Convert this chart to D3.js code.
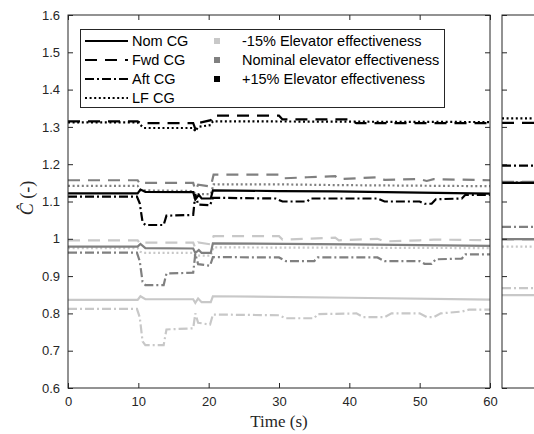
<!DOCTYPE html>
<html>
<head>
<meta charset="utf-8">
<script src="https://cdn.jsdelivr.net/npm/d3@7"></script>
<style>
  body { margin: 0; background: #fff; }
  svg { display: block; }
  .tick text { font-family: "Liberation Sans", Arial, sans-serif; font-size: 13px; fill: #262626; }
</style>
</head>
<body>
<script>
// time axis ticks / value ticks
var xTicks = [0, 10, 20, 30, 40, 50, 60];
var yTicks = [0.6, 0.7, 0.8, 0.9, 1.0, 1.1, 1.2, 1.3, 1.4, 1.5, 1.6];

var cgNames = ["Nom CG", "Fwd CG", "Aft CG", "LF CG"];
var effNames = ["-15% Elevator effectiveness", "Nominal elevator effectiveness", "+15% Elevator effectiveness"];

// [time, C-hat] break points, one array per curve
// -15% elevator effectiveness
var lowNom = [[0,0.836],[9.9,0.836],[10.3,0.846],[11,0.838],[17.8,0.838],[18.1,0.828],[18.5,0.84],[19,0.83],[20.3,0.83],[20.6,0.846],[40,0.842],[60,0.837]];
var lowFwd = [[0,0.996],[9.9,0.996],[10.3,0.985],[10.8,0.99],[17.8,0.99],[18.1,0.975],[18.5,0.99],[20.3,0.985],[20.7,1.007],[30,1.007],[30.5,0.998],[34,1.0],[38,1.003],[38.5,0.996],[44,1.0],[45,0.993],[50,0.996],[52,0.998],[60,0.996]];
var lowAft = [[0,0.812],[9.8,0.812],[10.2,0.79],[10.6,0.725],[11,0.715],[13.6,0.715],[14,0.757],[17.8,0.76],[18.1,0.8],[18.5,0.775],[20.2,0.77],[20.6,0.797],[30,0.795],[31,0.787],[35,0.787],[35.5,0.798],[41,0.8],[42,0.79],[45,0.79],[46,0.8],[50,0.8],[51,0.79],[52,0.79],[53,0.8],[56,0.805],[57,0.81],[60,0.81]];
var lowLF = [[0,0.975],[9.9,0.975],[10.3,0.965],[10.8,0.962],[17.8,0.962],[18.1,0.955],[20.3,0.955],[20.7,0.977],[60,0.975]];
// nominal elevator effectiveness
var midNom = [[0,0.979],[9.9,0.979],[10.3,0.986],[11,0.975],[17.8,0.974],[18.1,0.962],[18.6,0.97],[19,0.962],[20.3,0.962],[20.6,0.988],[40,0.985],[60,0.981]];
var midFwd = [[0,1.157],[9.9,1.157],[10.3,1.145],[10.8,1.15],[17.8,1.15],[18.1,1.13],[18.5,1.145],[20.3,1.14],[20.7,1.172],[30,1.172],[30.5,1.162],[34,1.165],[38,1.168],[38.5,1.16],[44,1.165],[45,1.158],[50,1.16],[51,1.155],[52,1.16],[60,1.157]];
var midAft = [[0,0.963],[9.8,0.963],[10.2,0.94],[10.6,0.885],[11,0.876],[13.6,0.876],[14,0.907],[17.8,0.909],[18.1,0.96],[18.5,0.932],[20.2,0.928],[20.6,0.951],[30,0.95],[31,0.94],[35,0.94],[35.5,0.95],[44,0.95],[45,0.94],[50,0.94],[50.7,0.933],[51.7,0.933],[52.3,0.945],[56,0.947],[56.5,0.958],[60,0.958]];
var midLF = [[0,1.142],[9.9,1.142],[10.3,1.13],[17.8,1.128],[18.1,1.12],[20.3,1.12],[20.7,1.146],[30,1.146],[38,1.144],[60,1.141]];
// +15% elevator effectiveness
var highNom = [[0,1.122],[9.9,1.122],[10.3,1.132],[11,1.126],[17.8,1.125],[18.1,1.105],[18.6,1.118],[19,1.108],[20.3,1.108],[20.6,1.13],[30,1.128],[38,1.127],[50,1.124],[60,1.121]];
var highFwd = [[0,1.315],[9.9,1.315],[10.4,1.31],[17.8,1.31],[18.1,1.295],[18.5,1.31],[20.3,1.318],[20.6,1.33],[30,1.33],[30.5,1.32],[40,1.32],[41,1.31],[60,1.31]];
var highAft = [[0,1.113],[9.8,1.113],[10.2,1.095],[10.6,1.045],[11,1.037],[13.6,1.037],[14,1.062],[17.8,1.064],[18.1,1.12],[18.5,1.092],[20.2,1.09],[20.6,1.11],[29.5,1.108],[30.5,1.1],[34,1.1],[34.5,1.108],[44,1.108],[45,1.1],[50,1.1],[50.7,1.094],[51.7,1.094],[52.3,1.106],[56,1.108],[56.5,1.118],[60,1.118]];
var highLF = [[0,1.312],[9.9,1.312],[10.3,1.305],[10.8,1.297],[17.8,1.297],[18.1,1.288],[18.5,1.3],[20.3,1.305],[20.6,1.315],[60,1.313]];

// final values shown in the narrow right panel (order: Nom, Fwd, Aft, LF)
var panelLow = [0.849, 0.998, 0.868, 0.979];
var panelMid = [0.999, 1.153, 1.032, 1.152];
var panelHigh = [1.15, 1.311, 1.196, 1.323];

var series = [
  { eff: 0, data: [lowNom, lowFwd, lowAft, lowLF], panel: panelLow },
  { eff: 1, data: [midNom, midFwd, midAft, midLF], panel: panelMid },
  { eff: 2, data: [highNom, highFwd, highAft, highLF], panel: panelHigh }
];

var effColors = ["#c8c8c8", "#808080", "#000000"];
var dashes = [null, "12,8", "9,3,2,3", "2,2.6"];
var axisColor = "#262626";

var W = 534, H = 434;
var svg = d3.select("body").append("svg").attr("width", W).attr("height", H);

var x = d3.scaleLinear().domain([0, 60]).range([68, 490]);
var y = d3.scaleLinear().domain([0.6, 1.6]).range([388, 15]);
var xp = d3.scaleLinear().domain([0, 1]).range([502, 924]);

var line = d3.line().x(d => x(d[0])).y(d => y(d[1]));

svg.append("clipPath").attr("id", "clipMain")
  .append("rect").attr("x", 68).attr("y", 15).attr("width", 422).attr("height", 373);

var plot = svg.append("g").attr("clip-path", "url(#clipMain)");

// draw order: light, gray, black; within a group LF, Fwd, Aft, Nom
var order = [3, 1, 2, 0];
series.forEach(s => {
  order.forEach(k => {
    plot.append("path")
      .attr("d", line(s.data[k]))
      .attr("fill", "none")
      .attr("stroke", effColors[s.eff])
      .attr("stroke-width", 2.2)
      .attr("stroke-dasharray", dashes[k]);
  });
});

// right panel lines
var panel = svg.append("g");
series.forEach(s => {
  order.forEach(k => {
    panel.append("line")
      .attr("x1", xp(0)).attr("x2", xp(1))
      .attr("y1", y(s.panel[k])).attr("y2", y(s.panel[k]))
      .attr("stroke", effColors[s.eff])
      .attr("stroke-width", 2.2)
      .attr("stroke-dasharray", dashes[k]);
  });
});

// axes (matlab style box with inward ticks)
function styleAxis(g) {
  g.select(".domain").remove();
  g.selectAll(".tick line").attr("stroke", axisColor);
}
var tl = 5;
svg.append("g").attr("transform", "translate(0,388)")
  .call(d3.axisBottom(x).tickValues(xTicks).tickFormat(d3.format("d")).tickSizeInner(-tl).tickPadding(9))
  .call(styleAxis);
svg.append("g").attr("transform", "translate(0,15)")
  .call(d3.axisTop(x).tickValues(xTicks).tickSizeInner(-tl).tickFormat(""))
  .call(styleAxis);
svg.append("g").attr("transform", "translate(68,0)")
  .call(d3.axisLeft(y).tickValues(yTicks).tickFormat(d => d3.format("")(+d.toFixed(1))).tickSizeInner(-tl).tickPadding(8))
  .call(styleAxis);
svg.append("g").attr("transform", "translate(490,0)")
  .call(d3.axisRight(y).tickValues(yTicks).tickSizeInner(-tl).tickFormat(""))
  .call(styleAxis);
svg.append("g").attr("transform", "translate(502,0)")
  .call(d3.axisLeft(y).tickValues(yTicks).tickSizeInner(-tl).tickFormat(""))
  .call(styleAxis);

svg.append("rect").attr("x", 68).attr("y", 15).attr("width", 422).attr("height", 373)
  .attr("fill", "none").attr("stroke", axisColor).attr("stroke-width", 1);
svg.append("rect").attr("x", 502).attr("y", 15).attr("width", 422).attr("height", 373)
  .attr("fill", "none").attr("stroke", axisColor).attr("stroke-width", 1);

// axis labels
svg.append("text").attr("x", 279).attr("y", 427)
  .attr("text-anchor", "middle")
  .style("font-family", "'Liberation Serif', 'DejaVu Serif', serif")
  .style("font-size", "17px").attr("fill", axisColor)
  .text("Time (s)");

var yl = svg.append("text").attr("transform", "translate(33,198) rotate(-90)")
  .attr("text-anchor", "middle")
  .style("font-family", "'Liberation Serif', 'DejaVu Serif', serif")
  .style("font-size", "18px").attr("fill", axisColor);
yl.append("tspan").style("font-style", "italic").text("\u0108");
yl.append("tspan").text(" (-)");

// legend
var lg = svg.append("g");
lg.append("rect").attr("x", 80.5).attr("y", 29.5).attr("width", 364).attr("height", 78)
  .attr("fill", "#fff").attr("stroke", axisColor).attr("stroke-width", 1);
var rowY = [41, 60, 79, 98];
cgNames.forEach((n, i) => {
  lg.append("line").attr("x1", 85).attr("x2", 128).attr("y1", rowY[i]).attr("y2", rowY[i])
    .attr("stroke", "#000").attr("stroke-width", 2.2).attr("stroke-dasharray", dashes[i]);
  lg.append("text").attr("x", 132).attr("y", rowY[i] + 5)
    .style("font-family", "'Liberation Sans', Arial, sans-serif").style("font-size", "14.5px")
    .attr("fill", "#000").text(n);
});
effNames.forEach((n, i) => {
  lg.append("rect").attr("x", 214).attr("y", rowY[i] - 3).attr("width", 6).attr("height", 6)
    .attr("fill", effColors[i]);
  lg.append("text").attr("x", 242).attr("y", rowY[i] + 5)
    .style("font-family", "'Liberation Sans', Arial, sans-serif").style("font-size", "14.5px")
    .attr("fill", "#000").text(n);
});
</script>
</body>
</html>
